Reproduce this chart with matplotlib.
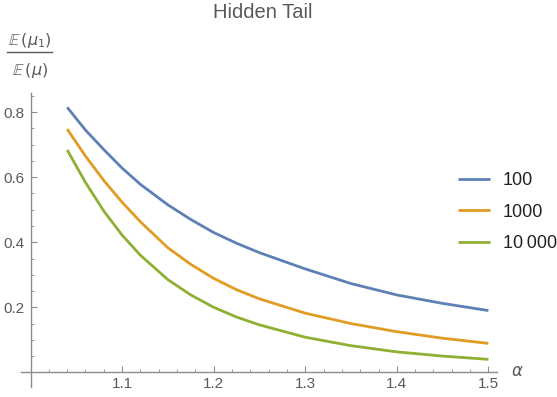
import numpy as np
import matplotlib
matplotlib.use("Agg")
import matplotlib.pyplot as plt
from matplotlib.ticker import FixedLocator, FormatStrFormatter

plt.rcParams['font.family'] = ['Liberation Sans', 'DejaVu Sans']

# values
alpha = [1.04, 1.06, 1.08, 1.10, 1.12, 1.15, 1.175, 1.20, 1.225, 1.25, 1.30, 1.35, 1.40, 1.45, 1.50]
n100 = [0.815, 0.745, 0.685, 0.628, 0.578, 0.515, 0.470, 0.430, 0.397, 0.368, 0.318, 0.273, 0.238, 0.212, 0.190]
n1000 = [0.748, 0.665, 0.590, 0.523, 0.463, 0.383, 0.332, 0.289, 0.254, 0.226, 0.182, 0.150, 0.125, 0.105, 0.089]
n10000 = [0.684, 0.584, 0.496, 0.422, 0.360, 0.285, 0.238, 0.200, 0.170, 0.146, 0.108, 0.082, 0.063, 0.050, 0.040]
labels = ['100', '1000', '10\u2009000']
colors = ['#5E81B5', '#E19C24', '#8FB032']

axis_grey = '#8c8c8c'
text_grey = '#5a5a5a'

fig = plt.figure(figsize=(5.57, 3.97), dpi=100)
ax = fig.add_axes([0.0372, 0.026, 0.8545, 0.739])

for ys, c, lab in zip([n100, n1000, n10000], colors, labels):
    ax.plot(alpha, ys, color=c, lw=2.0, label=lab, solid_capstyle='butt',
            solid_joinstyle='round')

ax.set_xlim(0.9893, 1.509)
ax.set_ylim(-0.044, 0.858)

ax.spines['top'].set_visible(False)
ax.spines['right'].set_visible(False)
ax.spines['left'].set_position(('data', 1.0))
ax.spines['bottom'].set_position(('data', 0.0))
for s in ['left', 'bottom']:
    ax.spines[s].set_color(axis_grey)
    ax.spines[s].set_linewidth(1.0)

ax.xaxis.set_major_locator(FixedLocator([1.1, 1.2, 1.3, 1.4, 1.5]))
ax.xaxis.set_minor_locator(FixedLocator(np.arange(1.02, 1.51, 0.02)))
ax.yaxis.set_major_locator(FixedLocator([0.2, 0.4, 0.6, 0.8]))
ax.yaxis.set_minor_locator(FixedLocator(np.arange(0.05, 0.86, 0.05)))
ax.xaxis.set_major_formatter(FormatStrFormatter('%.1f'))
ax.yaxis.set_major_formatter(FormatStrFormatter('%.1f'))

ax.tick_params(which='both', direction='in', color=axis_grey, labelcolor=text_grey, labelsize=11)
ax.tick_params(which='major', length=4.5, width=0.8)
ax.tick_params(which='minor', length=2.5, width=0.6)
ax.tick_params(axis='x', which='major', pad=3)
ax.tick_params(axis='y', which='major', pad=4.5)
ax.patch.set_visible(False)

# axis labels in Mathematica style
fig.text(517 / 557, 1 - 372 / 397, r'$\alpha$', color=text_grey, fontsize=12,
         ha='center', va='center')
fig.text(30 / 557, 1 - 40 / 397, r'$\mathbb{E}\,(\mu_1)$', color=text_grey, fontsize=11.5,
         ha='center', va='center')
fig.add_artist(plt.Line2D([7 / 557, 52 / 557], [1 - 52 / 397, 1 - 52 / 397],
                          color=text_grey, lw=1.0))
fig.text(30 / 557, 1 - 71 / 397, r'$\mathbb{E}\,(\mu)$', color=text_grey, fontsize=11.5,
         ha='center', va='center')

fig.text(262.5 / 557, 1 - 13 / 397, 'Hidden Tail', color=text_grey, fontsize=14.5,
         ha='center', va='center')

ax.legend(loc='center left', bbox_to_anchor=(458 / 557, 1 - 212.3 / 397),
          bbox_transform=fig.transFigure, frameon=False, fontsize=13,
          handlelength=1.77, handletextpad=0.72, labelspacing=0.8,
          borderpad=0, borderaxespad=0, labelcolor='#222222')

fig.savefig('out.png', dpi=100)
